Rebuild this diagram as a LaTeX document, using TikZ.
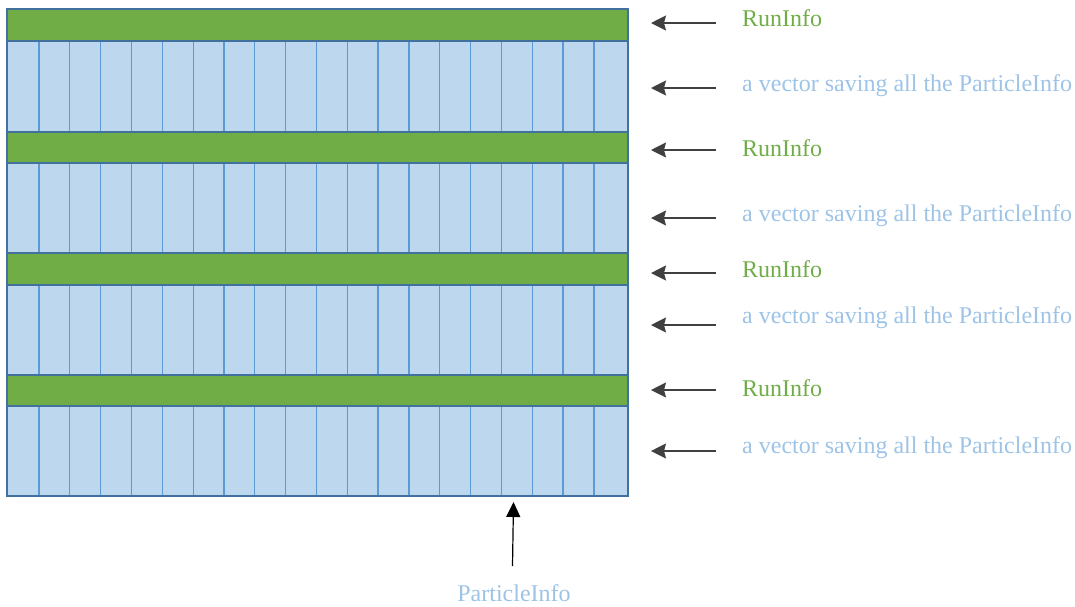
\documentclass[tikz,border=0pt]{standalone}
\usepackage{fontspec}
\setmainfont{Liberation Serif}
\usetikzlibrary{arrows.meta}

\definecolor{runGreen}{HTML}{70AD47}
\definecolor{cellBlue}{HTML}{BDD7EE}
\definecolor{edgeBlue}{HTML}{41719C}
\definecolor{gridBlue}{HTML}{5B9BD5}
\definecolor{textBlue}{HTML}{9DC3E6}
\definecolor{arrGray}{HTML}{404040}

\begin{document}
\begin{tikzpicture}[
  x=1pt, y=-1pt,
  font=\fontsize{24}{28}\selectfont,
  runbar/.style={draw=edgeBlue, fill=runGreen, line width=2.7pt},
  vecbar/.style={draw=edgeBlue, line width=2.7pt},
  cell/.style={draw=gridBlue, line width=1.3pt},
  runlbl/.style={anchor=base west, text=runGreen, inner sep=0pt},
  veclbl/.style={anchor=base west, text=textBlue, inner sep=0pt},
  arr/.style={
    -{Stealth[length=15pt, width=15pt, inset=2pt]},
    draw=arrGray,
    line width=1.4pt
  },
  uparr/.style={
    -{Triangle[length=15pt, width=14pt]},
    line width=1.2pt
  }
]
\useasboundingbox (0,0) rectangle (1075,606);

\def\xL{7}
\def\xR{628}
\def\xA{716}
\def\xB{651}
\def\xT{742}

% blue background and the ParticleInfo cells
\fill[cellBlue] (\xL,9) rectangle (\xR,496);
\foreach \i in {0,...,18}{
  \pgfmathsetmacro\cx{39 + 30.83*\i}
  \draw[cell] (\cx,9) -- (\cx,496);
}

% RunInfo bar + vector, four times
\foreach \gt/\gb/\bb/\ra/\rt/\va/\vt [count=\k] in
  {9/41/132/23/26/88/91, 132/163/253/150/156/218/221,
   253/285/375/273/277/325/323, 375/406/496/390/396/451/453}{
  \draw[vecbar] (\xL,\gb) rectangle (\xR,\bb);
  \draw[runbar] (\xL,\gt) rectangle (\xR,\gb);

  \node[runlbl] (run\k) at (\xT,\rt) {RunInfo};
  \coordinate (runtail\k) at (\xA,\ra);
  \coordinate (runtip\k) at (\xB,\ra);
  \draw[arr] (runtail\k) -- (runtip\k);

  \node[veclbl] (vec\k) at (\xT,\vt) {a vector saving all the ParticleInfo};
  \coordinate (vectail\k) at (\xA,\va);
  \coordinate (vectip\k) at (\xB,\va);
  \draw[arr] (vectail\k) -- (vectip\k);
}

% one ParticleInfo cell
\node[text=textBlue, anchor=base, inner sep=0pt] (pinfo) at (514,601) {ParticleInfo};
\coordinate (ptail) at (512.5,566);
\coordinate (ptip) at (513.5,502);
\draw[uparr] (ptail) -- (ptip);

\end{tikzpicture}
\end{document}
